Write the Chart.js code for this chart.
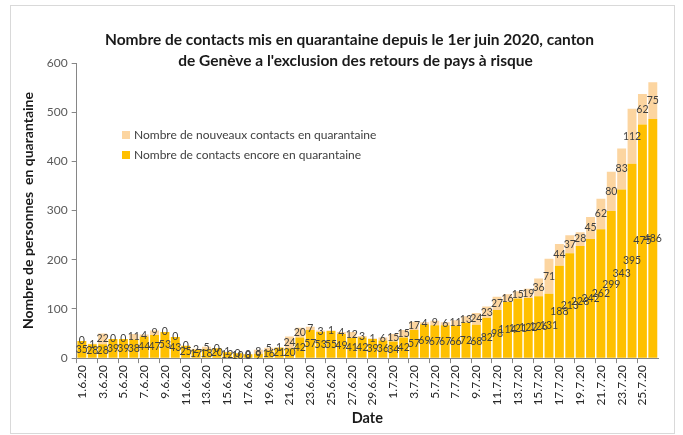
<!DOCTYPE html>
<html>
<head>
<meta charset="utf-8">
<script src="https://cdn.jsdelivr.net/npm/chart.js@4"></script>
<style>
  body { margin: 0; background: #fff; }
  #wrap { position: relative; width: 683px; height: 435px; }
  #frame { position: absolute; left: 10px; top: 5px; width: 663px; height: 427px; border: 1px solid #d9d9d9; pointer-events: none; }
</style>
</head>
<body>
<div id="wrap">
  <canvas id="graph" width="683" height="435"></canvas>
  <div id="frame"></div>
</div>
<script>
// Dates (axe X)
const dates = [
  '1.6.20','2.6.20','3.6.20','4.6.20','5.6.20','6.6.20','7.6.20','8.6.20','9.6.20','10.6.20',
  '11.6.20','12.6.20','13.6.20','14.6.20','15.6.20','16.6.20','17.6.20','18.6.20','19.6.20','20.6.20',
  '21.6.20','22.6.20','23.6.20','24.6.20','25.6.20','26.6.20','27.6.20','28.6.20','29.6.20','30.6.20',
  '1.7.20','2.7.20','3.7.20','4.7.20','5.7.20','6.7.20','7.7.20','8.7.20','9.7.20','10.7.20',
  '11.7.20','12.7.20','13.7.20','14.7.20','15.7.20','16.7.20','17.7.20','18.7.20','19.7.20','20.7.20',
  '21.7.20','22.7.20','23.7.20','24.7.20','25.7.20','26.7.20'
];

// Contacts encore en quarantaine
const encore = [
  35, 28, 28, 39, 39, 38, 44, 47, 53, 43,
  25, 17, 18, 20, 12, 10, 8, 9, 16, 21,
  20, 42, 57, 53, 55, 49, 41, 42, 39, 36,
  34, 42, 57, 69, 67, 67, 66, 72, 68, 82,
  98, 114, 121, 122, 126, 131, 188, 213, 228, 242,
  262, 299, 343, 395, 475, 486
];

// Nouveaux contacts en quarantaine
const nouveaux = [
  0, 1, 22, 0, 0, 11, 4, 9, 0, 0,
  0, 2, 5, 0, 1, 0, 0, 8, 5, 1,
  24, 20, 7, 3, 1, 4, 12, 3, 1, 6,
  15, 15, 17, 4, 9, 6, 11, 13, 24, 23,
  27, 16, 15, 19, 36, 71, 44, 37, 28, 45,
  62, 80, 83, 112, 62, 75
];

const yTicks = [0, 100, 200, 300, 400, 500, 600];

const GOLD = '#ffc000';
const PEACH = '#fcd5a0';
const FONT = 'Lato, "Open Sans", sans-serif';

// Titre, légende et étiquettes des barres
const decor = {
  id: 'decor',
  afterDatasetsDraw(chart) {
    const c = chart.ctx;
    c.save();
    c.fillStyle = '#404040';
    c.font = '10.5px ' + FONT;
    c.textAlign = 'center';
    c.textBaseline = 'middle';
    chart.data.datasets.forEach((ds, i) => {
      const meta = chart.getDatasetMeta(i);
      meta.data.forEach((bar, j) => {
        const y = (bar.y + bar.base) / 2;
        c.fillText(String(ds.data[j]), bar.x, y);
      });
    });
    c.restore();
  },
  afterDraw(chart) {
    const c = chart.ctx;
    c.save();
    // titre
    c.fillStyle = '#1a1a1a';
    c.font = 'bold 15.5px ' + FONT;
    c.textAlign = 'center';
    c.textBaseline = 'middle';
    const cx = chart.width / 2 + 8;
    c.fillText('Nombre de contacts mis en quarantaine depuis le 1er juin 2020, canton', cx, 40);
    c.fillText("de Genève a l'exclusion des retours de pays à risque", cx + 6, 61);
    // légende
    c.font = '12px ' + FONT;
    c.textAlign = 'left';
    const items = [
      { label: 'Nombre de nouveaux contacts en quarantaine', color: PEACH },
      { label: 'Nombre de contacts encore en quarantaine', color: GOLD }
    ];
    items.forEach((it, k) => {
      const y = 135 + k * 20;
      c.fillStyle = it.color;
      c.fillRect(122, y - 4, 8, 8);
      c.fillStyle = '#404040';
      c.fillText(it.label, 134, y);
    });
    c.restore();
  }
};

const ctx = document.getElementById('graph').getContext('2d');

new Chart(ctx, {
  type: 'bar',
  data: {
    labels: dates,
    datasets: [
      {
        label: 'Nombre de contacts encore en quarantaine',
        data: encore,
        backgroundColor: GOLD,
        categoryPercentage: 0.86,
        barPercentage: 1
      },
      {
        label: 'Nombre de nouveaux contacts en quarantaine',
        data: nouveaux,
        backgroundColor: PEACH,
        categoryPercentage: 0.86,
        barPercentage: 1
      }
    ]
  },
  options: {
    responsive: false,
    animation: false,
    layout: { padding: { left: 16, top: 63, right: 25, bottom: 4 } },
    plugins: {
      legend: { display: false },
      tooltip: { enabled: false }
    },
    scales: {
      x: {
        stacked: true,
        grid: {
          offset: true,
          drawOnChartArea: false,
          tickLength: 5,
          color: c => (c.index % 2 === 0 ? '#868686' : 'rgba(0,0,0,0)')
        },
        border: { color: '#868686' },
        ticks: {
          autoSkip: false,
          minRotation: 90,
          maxRotation: 90,
          padding: 2,
          color: '#262626',
          font: { size: 12, family: FONT },
          callback: (v, i) => (i % 2 === 0 ? dates[i] : '')
        },
        title: {
          display: true,
          text: 'Date',
          color: '#1a1a1a',
          font: { size: 14.5, weight: 'bold', family: FONT },
          padding: { top: 2 }
        }
      },
      y: {
        stacked: true,
        min: 0,
        max: 600,
        afterBuildTicks: axis => { axis.ticks = yTicks.map(v => ({ value: v })); },
        grid: { drawOnChartArea: false, tickLength: 5, color: '#868686' },
        border: { color: '#868686' },
        ticks: {
          color: '#595959',
          padding: 4,
          font: { size: 12, family: FONT }
        },
        title: {
          display: true,
          text: 'Nombre de personnes  en quarantaine',
          color: '#1a1a1a',
          font: { size: 14, weight: 'bold', family: FONT },
          padding: { bottom: 6 }
        }
      }
    }
  },
  plugins: [decor]
});
</script>
</body>
</html>
